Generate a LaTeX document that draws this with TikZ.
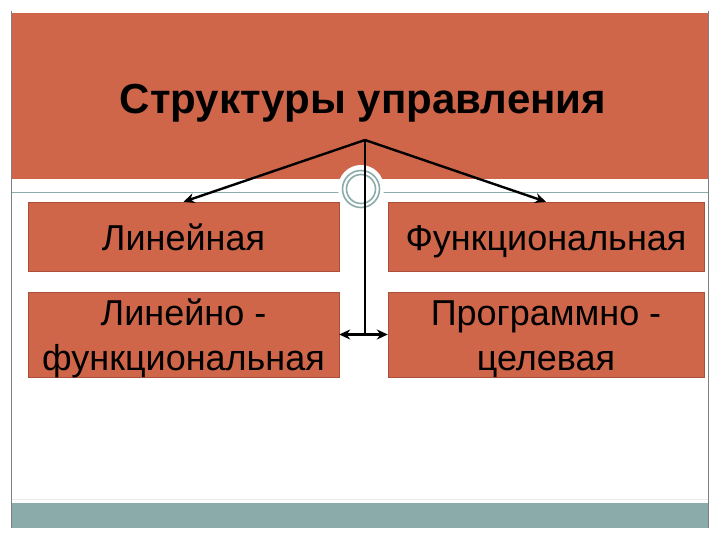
\documentclass[tikz,border=0pt]{standalone}
\usepackage{fontspec}
\setmainfont{Liberation Sans}
\usetikzlibrary{arrows.meta, positioning}

\definecolor{brick}{RGB}{207,102,74}
\definecolor{brickline}{RGB}{170,80,58}
\definecolor{seagray}{RGB}{138,171,170}

\begin{document}
\begin{tikzpicture}[x=1pt, y=-1pt,
	box/.style={draw=brickline, fill=brick, inner sep=0pt, align=center,
		font=\fontsize{36}{45}\selectfont, text depth=0pt},
	arr/.style={-{Stealth[length=11pt, width=10pt]}, line width=2.4pt},
	dblarr/.style={{Stealth[length=11pt, width=10pt]}-{Stealth[length=11pt, width=10pt]}, line width=2.4pt}]
	\useasboundingbox (0,0) rectangle (720,540);
	\fill[white] (0,0) rectangle (720,540);
	% slide background
	\fill[brick] (12,13) rectangle (708,179);
	\fill[seagray] (12,503) rectangle (708,528);
	\draw[seagray, line width=0.8pt] (12,192) -- (708,192);
	\draw[gray!15] (12,499) -- (708,499);
	\draw[gray, line width=0.6pt] (11.5,11) -- (11.5,528) (708.5,11) -- (708.5,528);
	\fill[white] (361,188) circle (23);
	\draw[seagray, line width=1.6pt] (361,189) circle (18.5);
	\draw[seagray, line width=1.6pt] (361,189) circle (14.5);
	% title and boxes
	\node[font=\fontsize{42}{48}\selectfont\bfseries] (title) at (363,103) {Структуры управления};
	\coordinate (apex) at (365,140);
	\node[box, text height=27pt, minimum width=311pt, minimum height=69pt] (lin) at (183.5,236.5) {Линейная};
	\node[box, text height=27pt, minimum width=316pt, minimum height=69pt] (fun) at (546,236.5) {Функциональная};
	\node[box, text height=72pt, minimum width=311pt, minimum height=85pt] (linfun) at (183.5,334.5) {Линейно -\\функциональная};
	\node[box, text height=72pt, minimum width=316pt, minimum height=85pt] (prog) at (546,334.5) {Программно -\\целевая};
	% connectors
	\draw[arr] (apex) -- (lin.north);
	\draw[arr] (apex) -- (fun.north);
	\draw[line width=2.4pt] (apex) -- (apex |- linfun.east);
	\draw[dblarr] (linfun.east) -- (prog.west);
\end{tikzpicture}
\end{document}
